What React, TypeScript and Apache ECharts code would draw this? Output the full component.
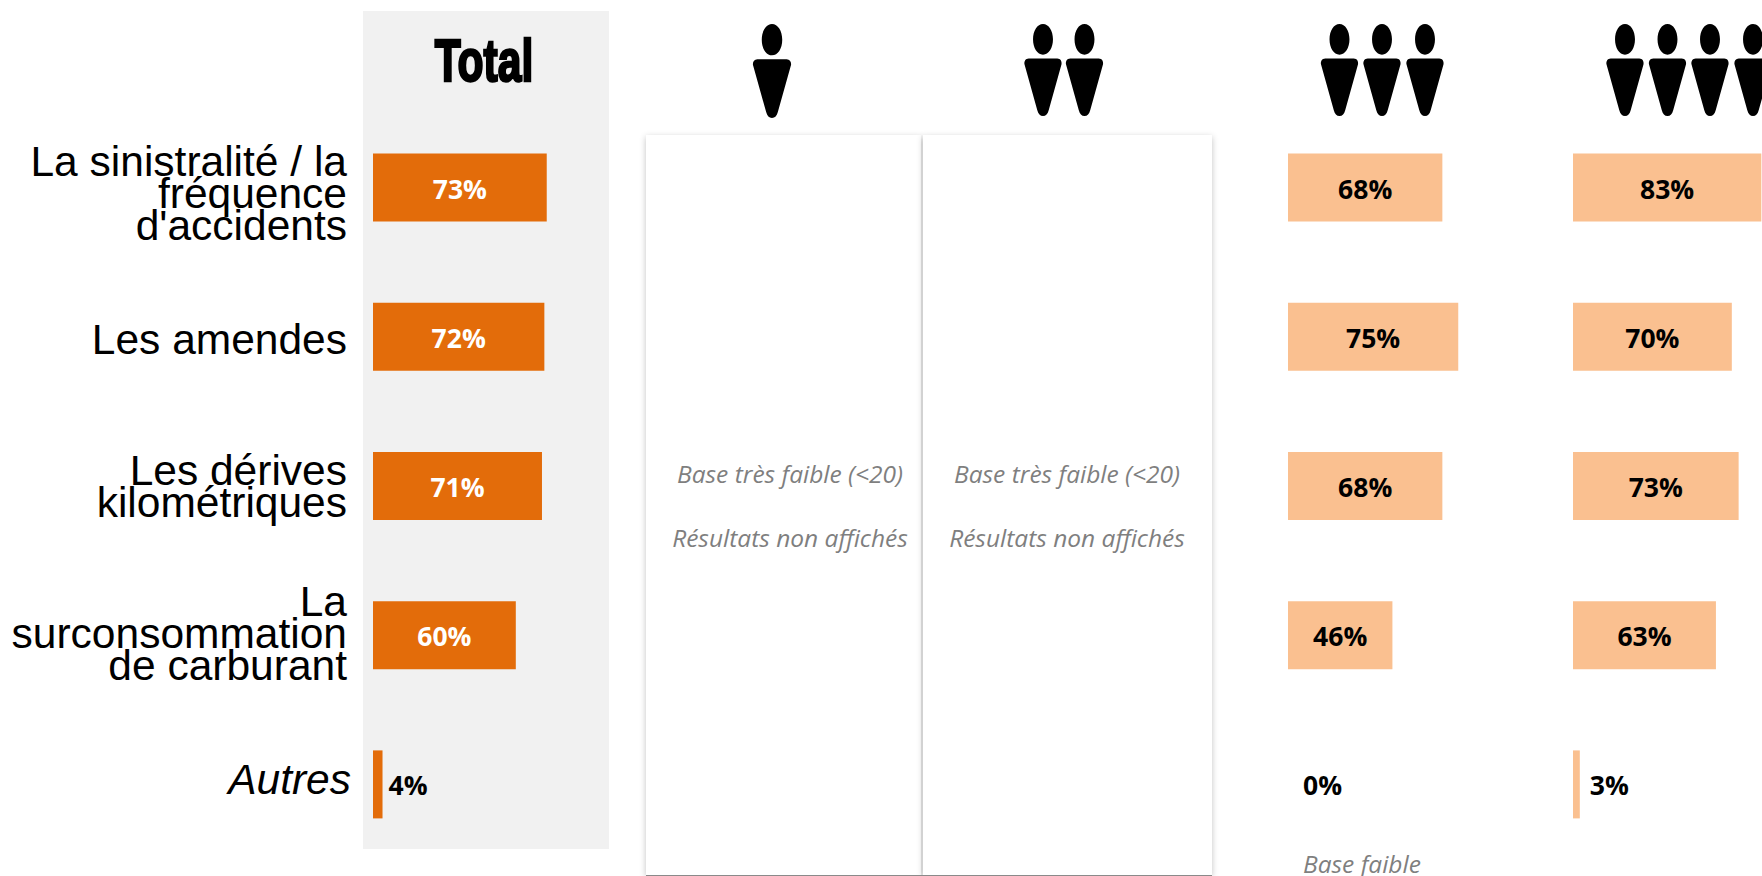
import React, { useEffect, useRef } from "react";
import * as echarts from "echarts";

const categories = [
  "La sinistralité / la\nfréquence\nd'accidents",
  "Les amendes",
  "Les dérives\nkilométriques",
  "La\nsurconsommation\nde carburant",
  "Autres",
];
const totalValues = [73, 72, 71, 60, 4];
const threePersons = [68, 75, 68, 46, 0];
const fourPersons = [83, 70, 73, 63, 3];
const noteLow = "Base très faible (<20)";
const noteHidden = "Résultats non affichés";
const noteBase = "Base faible";

const ORANGE = "#E36C0A";
const PEACH = "#FAC090";
const FONT = "'Open Sans', 'Noto Sans', sans-serif";
const LABEL_FONT = "'Liberation Sans', Arial, sans-serif";

const PERSON =
  "M20 0C26 0 30.5 7 30.5 16C30.5 25 26 32 20 32C14 32 9.5 25 9.5 16C9.5 7 14 0 20 0Z" +
  "M5 36L35 36C38.5 36 40 39 39.5 42L26 90C25 94 23 96 20 96C17 96 15 94 14 90L.5 42C0 39 1.5 36 5 36Z";

echarts.graphic.registerShape("person", echarts.graphic.extendPath(PERSON, {}) as any);

function App() {
  const ref = useRef<HTMLDivElement>(null);
  useEffect(() => {
    document.body.style.margin = "0";
    document.body.style.overflow = "hidden";
    const chart = echarts.init(ref.current!, undefined, { renderer: "svg" });

    const person = (cx: number, top: number, h: number, w: number) => ({
      type: "person",
      x: cx - w / 2,
      y: top,
      scaleX: w / 40,
      scaleY: h / 96,
      z: 10,
      style: { fill: "#000" },
    });

    const bar = (grid: number, values: number[], color: string, innerColor: string, outDist: number) => ({
      type: "bar",
      xAxisIndex: grid,
      yAxisIndex: grid,
      barWidth: 68,
      silent: true,
      itemStyle: { color },
      data: values.map((v) => ({
        value: v,
        label:
          v < 10
            ? { position: "right", distance: outDist, color: "#000", offset: [0, 1] }
            : { position: "inside", color: innerColor, offset: [0, 1] },
      })),
      label: {
        show: true,
        formatter: "{c}%",
        fontFamily: FONT,
        fontWeight: "bold",
        fontSize: 26.5,
      },
    });

    const note = (x: number, y: number, text: string, align = "center") => ({
      type: "text",
      x,
      y,
      z: 10,
      style: {
        text,
        fill: "#7f7f7f",
        font: `italic 24.5px ${FONT}`,
        align,
        verticalAlign: "middle",
      },
    });

    const panel = (x: number, w: number) => ({
      type: "rect",
      z: -1,
      shape: { x, y: 135, width: w, height: 740 },
      style: { fill: "#fff", shadowBlur: 6, shadowOffsetY: 2, shadowColor: "rgba(0,0,0,0.24)" },
    });

    const grids = [
      { left: 373, width: 238, top: 113, height: 746 },
      { left: 1288, width: 227, top: 113, height: 746 },
      { left: 1573, width: 189, top: 113, height: 746 },
    ];
    const axisMax = [100, 100, 83.3];
    const lineStyle = { fontFamily: LABEL_FONT, fontSize: 42.5, lineHeight: 32, color: "#000" };

    // A thin blank line above or below a label nudges it off the bar's centre, as in the original.
    const formatCategory = (value: string, index: number) => {
      const key = index === 4 ? "i" : "t";
      const body = value.split("\n").map((l) => `{${key}|${l}}`).join("\n");
      const before = ["{g12| }\n", "{g6| }\n", "", "", ""][index];
      const after = ["", "", "", "\n{g4| }", "\n{g9| }"][index];
      return before + body + after;
    };

    chart.setOption({
      animation: false,
      backgroundColor: "#fff",
      grid: grids,
      xAxis: grids.map((_, i) => ({ type: "value", gridIndex: i, min: 0, max: axisMax[i], show: false })),
      yAxis: grids.map((_, i) => ({
        type: "category",
        gridIndex: i,
        inverse: true,
        show: i === 0,
        data: categories,
        axisLine: { show: false },
        axisTick: { show: false },
        axisLabel: {
          margin: 22,
          align: "right",
          formatter: formatCategory,
          rich: {
            t: { ...lineStyle, align: "right", padding: [0, 4, 0, 0] },
            i: { ...lineStyle, align: "right", fontStyle: "italic" },
            g12: { fontSize: 1, lineHeight: 12 },
            g9: { fontSize: 1, lineHeight: 9 },
            g6: { fontSize: 1, lineHeight: 6 },
            g4: { fontSize: 1, lineHeight: 4 },
          },
        },
      })),
      series: [
        bar(0, totalValues, ORANGE, "#fff", 6),
        bar(1, threePersons, PEACH, "#000", 15),
        bar(2, fourPersons, PEACH, "#000", 10),
      ],
      graphic: {
        elements: [
          { type: "rect", z: -2, shape: { x: 363, y: 11, width: 246, height: 838 }, style: { fill: "#F1F1F1" } },
          panel(646, 275),
          panel(923, 289),
          { type: "line", z: 0, shape: { x1: 646, y1: 875.5, x2: 1212, y2: 875.5 }, style: { stroke: "#8a8a8a", lineWidth: 1 } },
          {
            type: "text",
            x: 484,
            y: 60.5,
            z: 10,
            scaleX: 0.71,
            style: {
              text: "Total",
              font: `bold 60px ${LABEL_FONT}`,
              fill: "#000",
              stroke: "#000",
              lineWidth: 2.5,
              align: "center",
              verticalAlign: "middle",
            },
          },
          person(772, 24, 94, 39),
          person(1043, 24, 92, 38),
          person(1084.5, 24, 92, 38),
          person(1339.5, 24, 92, 38),
          person(1382, 24, 92, 38),
          person(1425, 24, 92, 38),
          person(1625, 24, 92, 38),
          person(1667.5, 24, 92, 38),
          person(1710, 24, 92, 38),
          person(1753, 24, 92, 38),
          note(790, 473, noteLow),
          note(790, 537, noteHidden),
          note(1067, 473, noteLow),
          note(1067, 537, noteHidden),
          note(1303, 863, noteBase, "left"),
        ],
      },
    });
    return () => chart.dispose();
  }, []);
  return <div ref={ref} style={{ width: 1762, height: 876 }} />;
}

export default App;
